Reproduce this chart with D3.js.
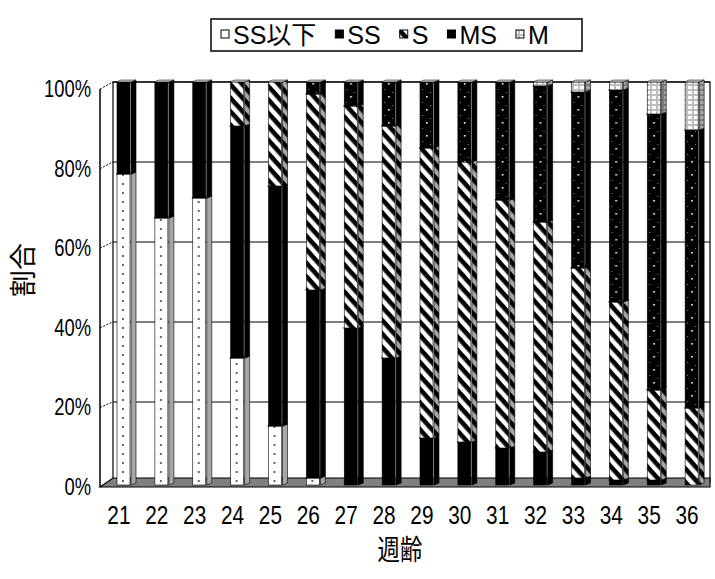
<!DOCTYPE html>
<html>
<head>
<meta charset="utf-8">
<script src="https://cdn.jsdelivr.net/npm/d3@7"></script>
<style>
    body { margin: 0; background: #fff; }
    text { font-family: "Liberation Sans", Arial, "Noto Sans CJK JP", sans-serif; fill: #000; }
    .cjk { font-family: "Noto Sans CJK JP", sans-serif; }
</style>
</head>
<body>
<svg id="chart" width="715" height="579"></svg>
<script>
// Data (percent of each week)
const weeks = ['21', '22', '23', '24', '25', '26', '27', '28', '29', '30', '31', '32', '33', '34', '35', '36'];
const seriesNames = ['SS以下', 'SS', 'S', 'MS', 'M'];
const ssUnder = [77, 66, 71, 31, 14, 1, 0, 0, 0, 0, 0, 0, 0, 0, 0, 0];
const ss = [23, 34, 29, 58, 60, 47, 38.5, 31, 11, 10, 8.5, 7.5, 1, 0.5, 0.5, 0];
const s = [0, 0, 0, 11, 26, 49, 55.5, 58, 72.5, 70, 62, 57.5, 52.5, 44.5, 22.5, 18.5];
const ms = [0, 0, 0, 0, 0, 3, 6, 11, 16.5, 20, 29.5, 34, 44, 53, 69, 69.5];
const m = [0, 0, 0, 0, 0, 0, 0, 0, 0, 0, 0, 1, 2.5, 2, 8, 12];
const yTicks = [0, 0.2, 0.4, 0.6, 0.8, 1];

const table = weeks.map((w, i) => ({
    week: w,
    'SS以下': ssUnder[i], 'SS': ss[i], 'S': s[i], 'MS': ms[i], 'M': m[i]
}));

const svg = d3.select('#chart');
const SX = 0.8; // axis text is horizontally squeezed in the original

// Scales
const x = d3.scaleBand().domain(weeks).range([100, 706]);
const yBar = d3.scaleLinear().domain([0, 1]).range([482, 82]);   // back wall / bars
const yFront = d3.scaleLinear().domain([0, 1]).range([487, 89]); // front axis
const wallL = 113, wallR = 710, axisX = 100;
const barOff = 17, barW = 13, sideW = 5, depthY = 2;

// Patterns
const defs = svg.append('defs');
const bar0 = x(weeks[0]) + barOff;

const pSSL = defs.append('pattern').attr('id', 'pSSL')
    .attr('patternUnits', 'userSpaceOnUse').attr('x', bar0).attr('y', 0)
    .attr('width', x.step()).attr('height', 9);
pSSL.append('rect').attr('width', x.step()).attr('height', 9).attr('fill', '#fff');
pSSL.append('rect').attr('x', 5).attr('y', 3).attr('width', 2).attr('height', 2).attr('fill', '#666');

const pS = defs.append('pattern').attr('id', 'pS')
    .attr('patternUnits', 'userSpaceOnUse').attr('width', 9).attr('height', 9)
    .attr('patternTransform', 'rotate(48)');
pS.append('rect').attr('width', 9).attr('height', 9).attr('fill', '#fff');
pS.append('rect').attr('width', 9).attr('height', 4.6).attr('fill', '#000');

const pMS = defs.append('pattern').attr('id', 'pMS')
    .attr('patternUnits', 'userSpaceOnUse').attr('x', bar0).attr('y', 0)
    .attr('width', x.step()).attr('height', 13);
pMS.append('rect').attr('width', x.step()).attr('height', 13).attr('fill', '#000');
pMS.append('rect').attr('x', 6).attr('y', 5).attr('width', 1.6).attr('height', 1.6).attr('fill', '#fff');
pMS.append('rect').attr('x', 2).attr('y', 11).attr('width', 1).attr('height', 1).attr('fill', '#888');
pMS.append('rect').attr('x', 10).attr('y', 1).attr('width', 1).attr('height', 1).attr('fill', '#888');

const pM = defs.append('pattern').attr('id', 'pM')
    .attr('patternUnits', 'userSpaceOnUse').attr('x', bar0).attr('y', 0)
    .attr('width', 6).attr('height', 5);
pM.append('rect').attr('width', 6).attr('height', 5).attr('fill', '#bdbdbd');
pM.append('rect').attr('x', 1).attr('y', 1).attr('width', 4).attr('height', 3).attr('fill', '#fff');

const fills = { 'SS以下': 'url(#pSSL)', 'SS': '#000', 'S': 'url(#pS)', 'MS': 'url(#pMS)', 'M': 'url(#pM)' };

// Text helper (squeezed like the source)
function label(g, tx, ty, str, size, anchor, cls) {
    g.append('text')
        .attr('class', cls || null)
        .attr('transform', `translate(${tx},${ty}) scale(${SX},1)`)
        .attr('text-anchor', anchor || 'start')
        .style('font-size', size + 'px')
        .text(str);
}

// Back wall and gridlines
const wall = svg.append('g');
wall.append('rect').attr('x', wallL).attr('y', yBar(1)).attr('width', wallR - wallL)
    .attr('height', yBar(0) - yBar(1)).attr('fill', '#fff').attr('stroke', '#000').attr('stroke-width', 1.2);
wall.selectAll('.grid').data(yTicks).enter().append('line')
    .attr('x1', wallL).attr('x2', wallR)
    .attr('y1', d => yBar(d)).attr('y2', d => yBar(d))
    .attr('stroke', '#000').attr('stroke-width', 1.2);

// Side wall diagonals from front ticks to back wall
wall.selectAll('.diag').data(yTicks).enter().append('line')
    .attr('x1', axisX).attr('y1', d => yFront(d))
    .attr('x2', wallL).attr('y2', d => yBar(d))
    .attr('stroke', '#000').attr('stroke-dasharray', '2,1.5');

// Floor
wall.append('path')
    .attr('d', `M${axisX},${yFront(0)} L${wallL},${yBar(0) - 4} L${wallR},${yBar(0) - 4} L${wallR},${yFront(0)} Z`)
    .attr('fill', '#808080').attr('stroke', '#000').attr('stroke-width', 1.2);

// Front axis line
wall.append('line').attr('x1', axisX).attr('x2', axisX)
    .attr('y1', yFront(1)).attr('y2', yFront(0)).attr('stroke', '#000').attr('stroke-width', 1.5);

// Stacked bars
const stack = d3.stack().keys(seriesNames).offset(d3.stackOffsetExpand);
const layers = stack(table);
const barsG = svg.append('g');

weeks.forEach((w, i) => {
    const bx = x(w) + barOff;
    const col = barsG.append('g');
    layers.forEach(layer => {
        const d = layer[i];
        if (d[1] - d[0] <= 0) return;
        const yt = yBar(d[1]), yb = yBar(d[0]) + (d[0] === 0 ? 3 : 0);
        const f = fills[layer.key];
        // front face
        col.append('rect').attr('x', bx).attr('y', yt).attr('width', barW).attr('height', yb - yt)
            .attr('fill', f).attr('stroke', '#000').attr('stroke-width', 0.6);
        // side face
        const side = `M${bx + barW + 1},${yb} L${bx + barW + 1 + sideW},${yb - depthY} L${bx + barW + 1 + sideW},${yt - depthY} L${bx + barW + 1},${yt} Z`;
        col.append('path').attr('d', side).attr('fill', f);
        col.append('path').attr('d', side).attr('fill', '#000').attr('fill-opacity', 0.35)
            .attr('stroke', '#000').attr('stroke-width', 0.6);
        // top ledge
        col.append('path')
            .attr('d', `M${bx - 1},${yt} L${bx + barW + 1},${yt} L${bx + barW + 1 + sideW},${yt - depthY} L${bx - 1 + sideW},${yt - depthY} Z`)
            .attr('fill', '#c8c8c8').attr('stroke', '#000').attr('stroke-width', 0.5);
    });
});

// Y axis labels
const yl = svg.append('g');
yTicks.forEach(t => label(yl, 91, yFront(t) + 8, d3.format('.0%')(t), 23, 'end'));

// X axis labels
const xl = svg.append('g');
weeks.forEach(w => label(xl, x(w) + x.bandwidth() / 2, 524, w, 26, 'middle'));

// Axis titles
svg.append('text').attr('class', 'cjk')
    .attr('transform', 'translate(33,270) rotate(-90)')
    .attr('text-anchor', 'middle').style('font-size', '27px').text('割合');
label(svg, 400, 560, '週齢', 28, 'middle', 'cjk');

// Legend
const lg = svg.append('g');
lg.append('rect').attr('x', 211).attr('y', 19).attr('width', 371).attr('height', 32)
    .attr('fill', '#fff').attr('stroke', '#000').attr('stroke-width', 1.5);
let lx = 221;
seriesNames.forEach(name => {
    lg.append('rect').attr('x', lx).attr('y', 30).attr('width', 8).attr('height', 8)
        .attr('fill', fills[name]).attr('stroke', '#000').attr('stroke-width', 1);
    const t = lg.append('text')
        .attr('x', lx + 12).attr('y', 44)
        .style('font-size', '25px').text(name);
    lx += 12 + t.node().getComputedTextLength() + 19;
});
</script>
</body>
</html>
